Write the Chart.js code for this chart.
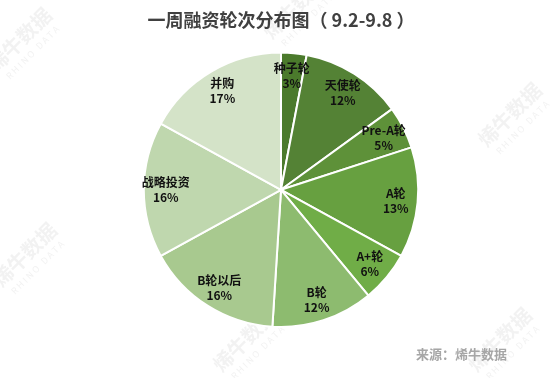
<!DOCTYPE html>
<html lang="zh">
<head>
<meta charset="UTF-8">
<title>一周融资轮次分布图</title>
<script src="https://cdn.jsdelivr.net/npm/chart.js"></script>
<style>
  html, body { margin: 0; padding: 0; background: #fff; }
  #wrap { width: 554px; height: 378px; position: relative; }
</style>
</head>
<body>
<div id="wrap"><canvas id="pieChart"></canvas></div>
<script>
const rounds = ['种子轮', '天使轮', 'Pre-A轮', 'A轮', 'A+轮', 'B轮', 'B轮以后', '战略投资', '并购'];
const shares = [3, 12, 5, 13, 6, 12, 16, 16, 17];
const sliceColors = ['#4b7a2c', '#548235', '#5e9139', '#67a040', '#70ad47', '#8dbb6f', '#a8c98f', '#bfd7ae', '#d4e3c8'];
const labelNames = ['种子轮', '天使轮', 'Pre-A轮', 'A轮', 'A+轮', 'B轮', 'B轮以后', '战略投资', '并购'];

const FONT = '"Noto Sans CJK SC", "Microsoft YaHei", sans-serif';

// faint watermark logos behind the pie
const watermark = {
    id: 'watermark',
    beforeDraw(chart) {
        const ctx = chart.ctx;
        const spots = [[25, 45], [300, 12], [515, 120], [30, 260], [250, 345], [505, 345]];
        ctx.save();
        ctx.fillStyle = 'rgba(210,210,210,0.28)';
        spots.forEach(([x, y]) => {
            ctx.save();
            ctx.translate(x, y);
            ctx.rotate(-Math.PI / 4);
            ctx.font = 'bold 20px ' + FONT;
            ctx.textAlign = 'center';
            ctx.fillText('烯牛数据', 0, 0);
            ctx.font = '9px ' + FONT;
            ctx.fillText('R H I N O   D A T A', 0, 14);
            ctx.restore();
        });
        ctx.restore();
    }
};

// slice labels + source note
const sliceLabels = {
    id: 'sliceLabels',
    afterDraw(chart) {
        const ctx = chart.ctx;
        const meta = chart.getDatasetMeta(0);
        ctx.save();
        ctx.fillStyle = '#111111';
        ctx.font = 'bold 12px ' + FONT;
        ctx.textAlign = 'center';
        ctx.textBaseline = 'middle';
        meta.data.forEach((arc, i) => {
            const mid = (arc.startAngle + arc.endAngle) / 2;
            const r = arc.outerRadius * 0.84;
            const x = arc.x + Math.cos(mid) * r;
            const y = arc.y + Math.sin(mid) * r;
            ctx.fillText(labelNames[i], x, y - 7);
            ctx.fillText(shares[i] + '%', x, y + 8);
        });
        ctx.fillStyle = '#a6a6a6';
        ctx.font = 'bold 13px ' + FONT;
        ctx.textAlign = 'left';
        ctx.fillText('来源：烯牛数据', 416, 354);
        ctx.restore();
    }
};

new Chart(document.getElementById('pieChart'), {
    type: 'pie',
    data: {
        labels: rounds,
        datasets: [{
            data: shares,
            backgroundColor: sliceColors,
            borderColor: '#ffffff',
            borderWidth: 2
        }]
    },
    options: {
        responsive: true,
        maintainAspectRatio: false,
        animation: false,
        layout: { padding: { top: 0, bottom: 50, left: 8, right: 0 } },
        plugins: {
            legend: { display: false },
            tooltip: { enabled: false },
            title: {
                display: true,
                text: '一周融资轮次分布图（ 9.2-9.8 ）',
                color: '#404040',
                font: { family: FONT, size: 18, weight: 'bold' },
                padding: { top: 9, bottom: 21 }
            }
        }
    },
    plugins: [watermark, sliceLabels]
});
</script>
</body>
</html>
